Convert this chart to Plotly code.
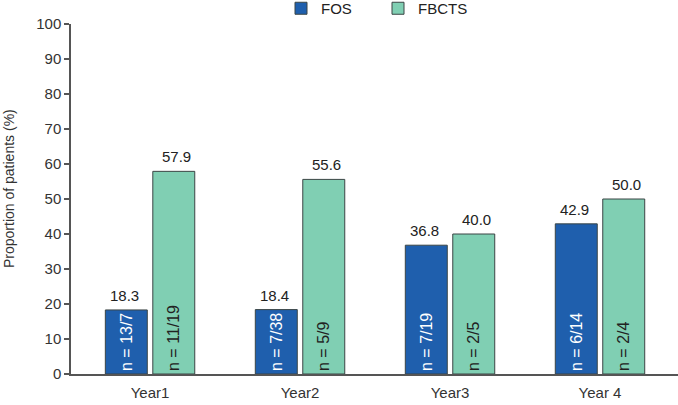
import plotly.graph_objects as go

categories = ["Year1", "Year2", "Year3", "Year 4"]
fos_values = [18.3, 18.4, 36.8, 42.9]
fbcts_values = [57.9, 55.6, 40.0, 50.0]
fos_n = ["n = 13/7", "n = 7/38", "n = 7/19", "n = 6/14"]
fbcts_n = ["n = 11/19", "n = 5/9", "n = 2/5", "n = 2/4"]
y_ticks = [0, 10, 20, 30, 40, 50, 60, 70, 80, 90, 100]
y_title = "Proportion of patients (%)"

FONT = "Liberation Sans, Arial, sans-serif"
FOS_COLOR = "#1F5FAD"
FBCTS_COLOR = "#80CFB3"
EDGE = "#3b4545"

fig = go.Figure()
fig.add_trace(go.Bar(
    x=categories, y=fos_values, name="FOS",
    marker=dict(color=FOS_COLOR, line=dict(color=EDGE, width=1)),
    text=fos_n, textposition="inside", insidetextanchor="start", textangle=-90,
    insidetextfont=dict(color="white", size=16, family=FONT),
    hoverinfo="skip",
))
fig.add_trace(go.Bar(
    x=categories, y=fbcts_values, name="FBCTS",
    marker=dict(color=FBCTS_COLOR, line=dict(color=EDGE, width=1)),
    text=fbcts_n, textposition="inside", insidetextanchor="start", textangle=-90,
    insidetextfont=dict(color="#222222", size=16, family=FONT),
    hoverinfo="skip",
))

annotations = []
for cat, v in zip(categories, fos_values):
    annotations.append(dict(x=cat, y=v, text=f"{v:.1f}", showarrow=False,
                            xshift=-26, yshift=4, yanchor="bottom",
                            font=dict(size=15, color="#222222", family=FONT)))
for cat, v in zip(categories, fbcts_values):
    annotations.append(dict(x=cat, y=v, text=f"{v:.1f}", showarrow=False,
                            xshift=26.5, yshift=4, yanchor="bottom",
                            font=dict(size=15, color="#222222", family=FONT)))
annotations.append(dict(text=y_title, textangle=-90, showarrow=False,
                        xref="paper", yref="paper", x=(9 - 71) / 607, y=(374 - 189) / 350,
                        xanchor="center", yanchor="middle",
                        font=dict(size=14, color="#333333", family=FONT)))

fig.update_layout(
    width=678, height=405,
    margin=dict(l=71, r=0, t=24, b=31, autoexpand=False),
    paper_bgcolor="white", plot_bgcolor="white",
    barmode="group", bargap=0.367, bargroupgap=0.116,
    uniformtext=dict(minsize=16, mode="show"),
    font=dict(family=FONT, size=15, color="#333333"),
    showlegend=True,
    legend=dict(orientation="h", x=(291 - 71 - 10) / 607, xanchor="left", xref="paper",
                yref="paper", y=1.0914, yanchor="top", font=dict(size=15, color="#222222"),
                itemwidth=30, entrywidth=52, traceorder="normal"),
    annotations=annotations,
    xaxis=dict(range=[-0.527, 3.52], showline=True, linecolor="#555555", linewidth=1.5,
               ticks="", showgrid=False, zeroline=False, ticklabelstandoff=4,
               tickfont=dict(size=15, color="#333333")),
    yaxis=dict(range=[0, 100], tickvals=y_ticks, showline=True, linecolor="#555555",
               linewidth=1.5, ticks="outside", ticklen=5, tickcolor="#555555",
               tickwidth=1.5, showgrid=False, zeroline=False,
               tickfont=dict(size=15, color="#333333")),
)

fig.write_html("out.html")
